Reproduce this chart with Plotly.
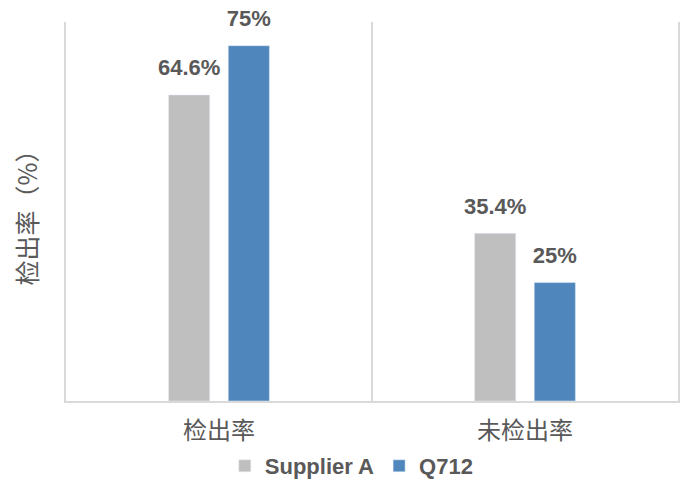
import plotly.graph_objects as go

categories = ['检出率', '未检出率']
supplier_a = [64.6, 35.4]
q712 = [75, 25]
series_names = ['Supplier A', 'Q712']
colors = ['#BFBFBF', '#4F87BD']

label_font = dict(family='Liberation Sans, Arial', size=22, color='#595959')

fig = go.Figure()
for name, vals, col in zip(series_names, [supplier_a, q712], colors):
    fig.add_trace(go.Bar(x=categories, y=vals, name=f'<b>{name}</b>',
                         marker=dict(color=col), hoverinfo='skip'))

# data labels, placed over each bar via grouped scatter
for name, vals in zip(series_names, [supplier_a, q712]):
    fig.add_trace(go.Scatter(
        x=categories, y=vals, mode='text+markers', showlegend=False,
        marker=dict(size=21, opacity=0),
        text=[f'<b>{v:g}%</b>' for v in vals],
        textposition='top center', textfont=label_font, cliponaxis=False
    ))

# page body has an 8px margin, so the plot area is shifted by that;
# figure is taller than the window so the legend doesn't push the margin
fig.update_layout(
    width=700, height=510,
    margin=dict(l=58, r=30, t=14, b=117),
    plot_bgcolor='white', paper_bgcolor='white',
    barmode='group', bargap=0.61, bargroupgap=0.31,
    scattermode='group', scattergap=0.61,
    showlegend=True,
    legend=dict(orientation='h', x=0.467, xanchor='center', y=-0.1715, yanchor='middle',
                font=dict(family='Liberation Sans, Arial', size=22, color='#595959'),
                itemwidth=30, traceorder='normal'),
    font=dict(family='Liberation Sans, Arial', color='#595959'),
)
fig.update_xaxes(
    type='category', tickson='boundaries', showgrid=True, gridcolor='#D9D9D9', gridwidth=1.5,
    showline=True, linecolor='#D9D9D9', linewidth=1.5, ticks='',
    tickfont=dict(family='Noto Sans CJK SC', size=24, color='#595959'),
    ticklabelstandoff=7, automargin=False,
    range=[-0.5, 1.5]
)
fig.update_yaxes(
    range=[0, 80], showgrid=False, showticklabels=False, zeroline=False, ticks='',
    showline=True, mirror=True, linecolor='#D9D9D9', linewidth=1.5, automargin=False,
    title=dict(text='检出率（%）', font=dict(family='Noto Sans CJK SC', size=25, color='#595959'),
               standoff=20)
)

fig.write_html('out.html')
